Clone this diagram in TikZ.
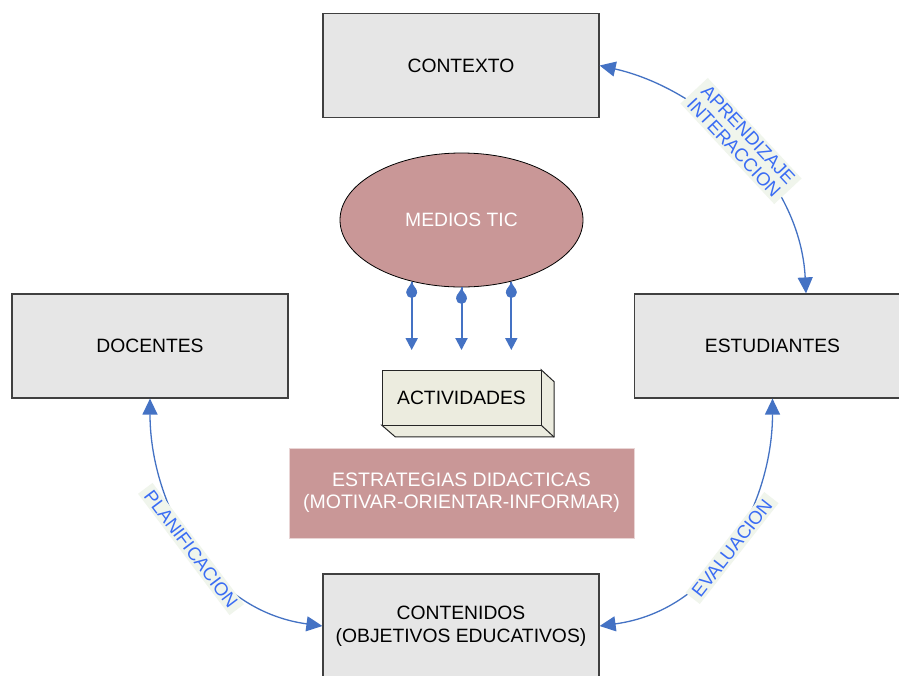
\documentclass[tikz,border=0pt]{standalone}
\usepackage{fontspec}
\setmainfont{Liberation Sans}
\usetikzlibrary{shapes.geometric,arrows.meta,calc}
\definecolor{boxgray}{HTML}{E6E6E6}
\definecolor{rose}{HTML}{C99797}
\definecolor{arrowblue}{HTML}{4472C4}
\definecolor{labelblue}{HTML}{3A6CF4}
\definecolor{labelbg}{HTML}{F0F5EC}
\definecolor{actfill}{HTML}{ECECDF}
\begin{document}
\begin{tikzpicture}[x=1pt,y=-1pt,
  graybox/.style={draw=black!75, line width=1.2pt, fill=boxgray, minimum width=276pt,
    minimum height=104pt, inner sep=0pt, align=center, font=\fontsize{19.3}{23}\selectfont},
  curvearrow/.style={draw=arrowblue, line width=1.3pt,
    {Triangle[length=16pt,width=15pt]}-{Triangle[length=16pt,width=15pt]}},
  smallarrow/.style={draw=arrowblue, line width=2pt, -{Triangle[length=12pt,width=12pt]}},
  lbl/.style={fill=labelbg, text=labelblue, inner xsep=5pt, inner ysep=2.5pt, align=center,
    font=\fontsize{18.5}{19.5}\selectfont}
]
\clip (0,0) rectangle (899,675);
\fill[white] (0,0) rectangle (899,675);

% boxes
\node[graybox] (ctx) at (461,65.5) {CONTEXTO};
\node[graybox] (doc) at (150,346) {DOCENTES};
\node[graybox] (est) at (772.5,346) {ESTUDIANTES};
\node[graybox] (con) at (461,626) {CONTENIDOS\\(OBJETIVOS EDUCATIVOS)};

% ellipse
\node[ellipse, draw=black, line width=0.8pt, fill=rose, minimum width=243pt, minimum height=134pt,
  inner sep=0pt, text=white, font=\fontsize{19.3}{23}\selectfont] (med) at (461.5,220) {MEDIOS TIC};

% small arrows with drops
\coordinate (y350) at (0,350);
\foreach \a/\n in {231/1,270/2,309/3}{
  \coordinate (d\n) at (med.\a);
  \coordinate (e\n) at (med.\a |- y350);
  \draw[smallarrow] (d\n) -- (e\n);
  \begin{scope}[shift={(d\n)}]
    \fill[arrowblue] (0,0) .. controls (-1,4) and (-5,7) .. (-5.3,10) -- (5.3,10) .. controls (5,7) and (1,4) .. (0,0) -- cycle;
    \fill[arrowblue] (0,11) circle[radius=5.5pt];
  \end{scope}
}

% 3D activities box
\node[minimum width=159pt, minimum height=55pt, inner sep=0pt] (act) at (461.5,397.5) {};
\filldraw[fill=actfill, draw=black!85, line width=1pt]
  (act.north east) -- ++(13,12) -- ++(0,55) -- ++(-159,0) -- (act.south west) -- (act.south east) -- cycle;
\draw[black!85, line width=1pt] (act.south east) -- ++(13,12);
\node[draw=black!85, line width=1pt, fill=actfill, minimum width=159pt, minimum height=55pt,
  inner sep=0pt, font=\fontsize{19.3}{23}\selectfont] at (act) {ACTIVIDADES};

% strategies
\node[fill=rose, draw=rose!40!white, line width=0.8pt, minimum width=345pt, minimum height=90pt,
  text=white, align=center, font=\fontsize{19.5}{22}\selectfont] (str) at (461.5,493)
  {ESTRATEGIAS DIDACTICAS\\(MOTIVAR-ORIENTAR-INFORMAR)};

% curved connectors
\draw[curvearrow] (ctx.east) .. controls (700,88) and (800,175) .. ($(est.north)+(33.5,0)$);
\draw[curvearrow] (doc.south) .. controls (150,500) and (205,610) .. (con.west);
\draw[curvearrow] (est.south) .. controls (772.5,500) and (718,610) .. (con.east);

% labels
\node[lbl, rotate=-47] (l1) at (741,141) {APRENDIZAJE\\INTERACCION};
\node[lbl, rotate=-53] (l2) at (191,549) {PLANIFICACION};
\node[lbl, rotate=52] (l3) at (732,548) {EVALUACION};
\end{tikzpicture}
\end{document}
